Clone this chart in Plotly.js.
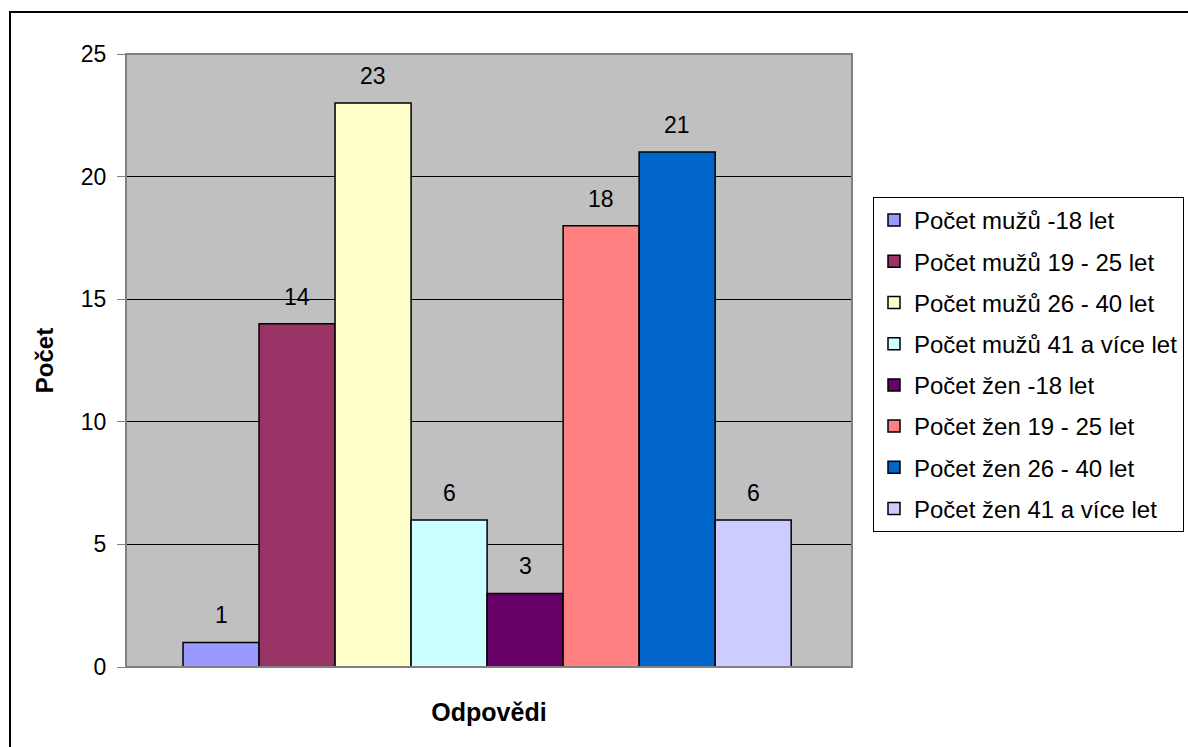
<!DOCTYPE html>
<html>
<head>
<meta charset="utf-8">
<script src="https://cdn.plot.ly/plotly-3.0.1.min.js"></script>
<style>
  html, body { margin: 0; padding: 0; background: #ffffff; }
  #frame { position: absolute; left: 9px; top: 11px; width: 1300px; height: 900px;
           border-left: 2px solid #000; border-top: 2px solid #000; pointer-events: none; }
  #chart { position: absolute; left: 0; top: 0; width: 1188px; height: 747px; }
</style>
</head>
<body>
<div id="frame"></div>
<div id="chart"></div>
<script>
// Respondent counts by sex and age group
const seriesNames = [
  'Počet mužů -18 let',
  'Počet mužů 19 - 25 let',
  'Počet mužů 26 - 40 let',
  'Počet mužů 41 a více let',
  'Počet žen -18 let',
  'Počet žen 19 - 25 let',
  'Počet žen 26 - 40 let',
  'Počet žen 41 a více let'
];
const seriesValues = [1, 14, 23, 6, 3, 18, 21, 6];
const seriesColors = ['#9999FF', '#993366', '#FFFFCC', '#CCFFFF', '#660066', '#FF8080', '#0066CC', '#CCCCFF'];
const yTicks = [0, 5, 10, 15, 20, 25];

const FONT = '"Liberation Sans", Arial, Helvetica, sans-serif';

const traces = seriesNames.map((name, i) => ({
  type: 'bar',
  name: name,
  x: [i],
  y: [seriesValues[i]],
  width: 1,
  legendgroup: 'g' + i,
  marker: { color: seriesColors[i], line: { color: '#000000', width: 1.5 } },
  hoverinfo: 'name+y'
}));

const labels = seriesValues.map((v, i) => ({
  x: i, y: v, xref: 'x', yref: 'y',
  text: String(v), showarrow: false,
  yanchor: 'bottom', yshift: 12,
  font: { family: FONT, size: 23, color: '#000000' }
}));

const layout = {
  width: 1188, height: 747,
  margin: { l: 126, r: 336, t: 54, b: 80, autoexpand: false },
  paper_bgcolor: 'rgba(0,0,0,0)',
  plot_bgcolor: '#C0C0C0',
  font: { family: FONT, size: 23, color: '#000000' },
  barmode: 'overlay',
  showlegend: true,
  legend: {
    x: (873 - 126) / 726, xanchor: 'left',
    y: (667 - 197) / 613, yanchor: 'top',
    bgcolor: '#FFFFFF', bordercolor: '#000000', borderwidth: 1,
    font: { family: FONT, size: 24, color: '#000000' },
    tracegroupgap: 7,
    itemclick: false, itemdoubleclick: false
  },
  xaxis: {
    range: [-1.25, 8.30],
    showticklabels: false, ticks: '', showgrid: false, zeroline: false,
    showline: false, fixedrange: true,
    title: { text: '<b>Odpovědi</b>', font: { family: FONT, size: 25, color: '#000000' }, standoff: 36 },
    automargin: false
  },
  yaxis: {
    range: [0, 25], tickvals: yTicks, ticktext: yTicks.map(String),
    ticks: 'outside', ticklen: 8, tickwidth: 1, tickcolor: '#808080',
    ticklabelstandoff: 6,
    showgrid: true, gridcolor: '#000000', gridwidth: 1,
    zeroline: false, showline: false, fixedrange: true,
    tickfont: { family: FONT, size: 23, color: '#000000' },
    title: { text: '<b>Počet</b>', font: { family: FONT, size: 24, color: '#000000' }, standoff: 20 },
    automargin: false
  },
  annotations: labels,
  shapes: [{
    type: 'rect', xref: 'paper', yref: 'paper', x0: 0, x1: 1, y0: 0, y1: 1,
    line: { color: '#808080', width: 2 }, fillcolor: 'rgba(0,0,0,0)', layer: 'above'
  }]
};

Plotly.newPlot('chart', traces, layout, { displayModeBar: false, responsive: false });
</script>
</body>
</html>
